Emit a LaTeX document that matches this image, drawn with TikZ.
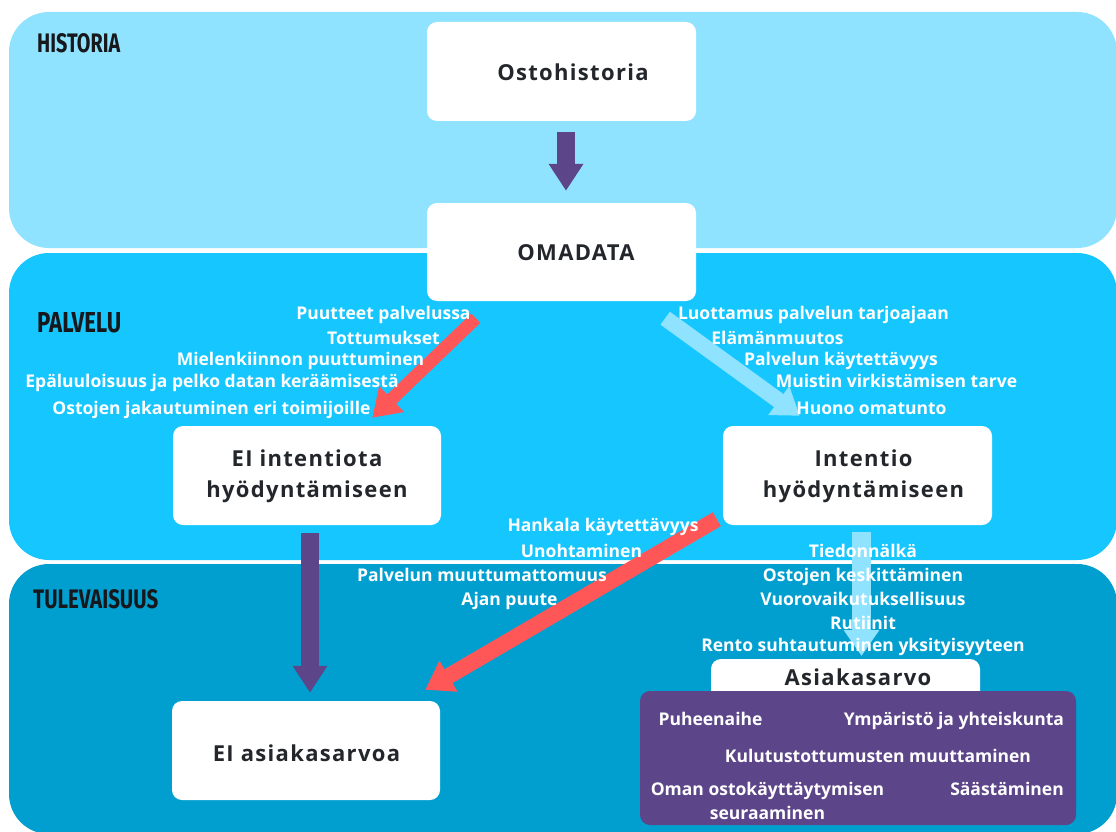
\documentclass[tikz,border=0pt]{standalone}
\usepackage{fontspec}
\setmainfont{Open Sans}
\newfontfamily\headfont{Fira Sans}
\usepackage{graphicx}
\usetikzlibrary{arrows.meta,calc}

\definecolor{histband}{HTML}{8FE3FF}
\definecolor{palvband}{HTML}{16C6FE}
\definecolor{tulband}{HTML}{009FD0}
\definecolor{arrpurple}{HTML}{5C4589}
\definecolor{arrred}{HTML}{FF5757}
\definecolor{arrlight}{HTML}{8FE3FF}
\definecolor{darktext}{HTML}{23262B}
\definecolor{headtext}{HTML}{16181C}

\tikzset{
  band/.style={rounded corners=40pt},
  wbox/.style={fill=white, rounded corners=10pt, inner sep=0pt},
  boxtext/.style={text=darktext, inner sep=0pt, align=center,
    font=\bfseries\fontsize{22}{31}\selectfont\addfontfeature{LetterSpace=6}},
  wtext/.style={text=white, inner sep=0pt, text height=12.5pt, text depth=0pt,
    font=\bfseries\fontsize{17.5}{20}\selectfont},
  wtwoline/.style={text=white, inner sep=0pt, align=center,
    font=\bfseries\fontsize{17.5}{24}\selectfont},
  bandtitle/.style={text=headtext, inner sep=0pt, anchor=west,
    font=\headfont\bfseries},
  purplearrow/.style={draw=arrpurple, line width=18pt,
    -{Triangle[length=27pt,width=33pt]}},
  redarrow/.style={draw=arrred, line width=#1,
    -{Triangle[length=27pt,width=34pt]}},
  lightarrow/.style={draw=arrlight, line width=#1,
    -{Triangle[length=26pt,width=34pt]}},
}

\begin{document}
\begin{tikzpicture}[x=1pt,y=-1pt]
\useasboundingbox (0,0) rectangle (1116,832);
\fill[white] (0,0) rectangle (1116,832);

% time bands
\fill[histband, band] (9,12) rectangle (1117,248);
\fill[palvband, band] (9,253) rectangle (1117,560);
\fill[tulband, band] (9,564) rectangle (1117,834);

\node[bandtitle] (histtitle) at (37,43) {\resizebox{83pt}{19pt}{HISTORIA}};
\node[bandtitle] (palvtitle) at (37,323) {\resizebox{84pt}{20pt}{PALVELU}};
\node[bandtitle] (tultitle) at (33,599) {\resizebox{125pt}{19pt}{TULEVAISUUS}};

% main boxes
\node[wbox, minimum width=269pt, minimum height=99pt] (osto) at (561.5,71.5) {};
\node[wbox, minimum width=269pt, minimum height=98pt] (omadata) at (561.5,252) {};
\node[wbox, minimum width=268pt, minimum height=99pt] (eiint) at (307,475.5) {};
\node[wbox, minimum width=269pt, minimum height=99pt] (intentio) at (857.5,475.5) {};
\node[wbox, minimum width=268pt, minimum height=99pt] (eiasi) at (306,750.5) {};

% arrows
\draw[purplearrow] ($(osto.south)+(4.5,11)$) -- ($(omadata.north)+(4.5,-12)$);
\draw[purplearrow] ($(eiint.south)+(3,8)$) -- ($(eiasi.north)+(4,-8)$);
\draw[redarrow=13pt] ($(omadata.south west)+(49,17)$) -- ($(eiint.north east)+(-69,-8)$);
\draw[lightarrow=16pt] ($(omadata.south east)+(-31,17)$) -- ($(intentio.north west)+(77,-10)$);
\draw[redarrow=16pt] ($(intentio.south west)+(-6,-6)$) -- ($(eiasi.north east)+(-15,-11)$);
\coordinate (asitip) at (861.5,656);
\draw[lightarrow=19pt] ($(intentio.south)+(4,7)$) -- (asitip);

% value boxes
\node[wbox, minimum width=269pt, minimum height=44pt] (asiakas) at (845.5,681) {};
\node[fill=arrpurple, rounded corners=10pt, inner sep=0pt,
      minimum width=436pt, minimum height=134pt] (valuebox) at (858,758) {};

% box texts
\node[boxtext] (ostot) at ($(osto.center)+(11.5,0.5)$) {Ostohistoria};
\node[boxtext] (omat) at ($(omadata.center)+(14.5,1)$) {OMADATA};
\node[boxtext] (eiintt) at ($(eiint.center)+(0,1)$) {EI intentiota\\hyödyntämiseen};
\node[boxtext] (intt) at ($(intentio.center)+(6,1)$) {Intentio\\hyödyntämiseen};
\node[boxtext] (eiasit) at ($(eiasi.center)+(0.5,2.5)$) {EI asiakasarvoa};
\node[boxtext] (asiakast) at (858,677) {Asiakasarvo};

% reasons for no intention
\node[wtext] (n1) at (383.5,313) {Puutteet palvelussa};
\node[wtext] (n2) at (383.5,338) {Tottumukset};
\node[wtext] (n3) at (300.5,359) {Mielenkiinnon puuttuminen};
\node[wtext] (n4) at (212,381) {Epäluuloisuus ja pelko datan keräämisestä};
\node[wtext] (n5) at (211.5,408) {Ostojen jakautuminen eri toimijoille};

% reasons for intention
\node[wtext] (p1) at (813.5,313) {Luottamus palvelun tarjoajaan};
\node[wtext] (p2) at (777.5,338) {Elämänmuutos};
\node[wtext] (p3) at (841,359) {Palvelun käytettävyys};
\node[wtext] (p4) at (896.5,381) {Muistin virkistämisen tarve};
\node[wtext] (p5) at (871.5,408) {Huono omatunto};

% reasons for no customer value
\node[wtext] (m1) at (603,525) {Hankala käytettävyys};
\node[wtext] (m2) at (581.5,551) {Unohtaminen};
\node[wtext] (m3) at (482,575) {Palvelun muuttumattomuus};
\node[wtext] (m4) at (509.5,599) {Ajan puute};

% reasons for customer value
\node[wtext] (v1) at (863,551) {Tiedonnälkä};
\node[wtext] (v2) at (863,575) {Ostojen keskittäminen};
\node[wtext] (v3) at (863,599) {Vuorovaikutuksellisuus};
\node[wtext] (v4) at (863,623) {Rutiinit};
\node[wtext] (v5) at (863,645) {Rento suhtautuminen yksityisyyteen};

% forms of customer value
\node[wtext] (c1) at (710.5,719) {Puheenaihe};
\node[wtext] (c2) at (954,719) {Ympäristö ja yhteiskunta};
\node[wtext] (c3) at (878,756) {Kulutustottumusten muuttaminen};
\node[wtwoline] (c4) at (767.5,801) {Oman ostokäyttäytymisen\\seuraaminen};
\node[wtext] (c5) at (1007,789) {Säästäminen};
\end{tikzpicture}
\end{document}
